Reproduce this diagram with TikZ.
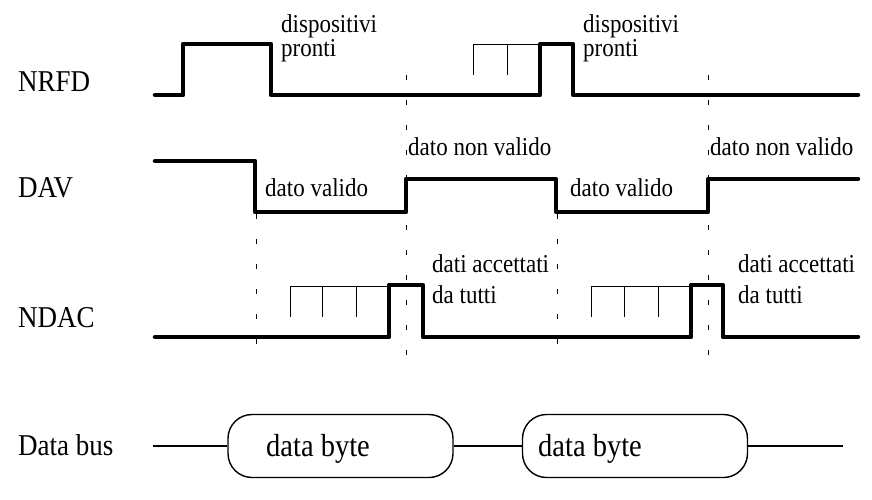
\documentclass[tikz,border=0pt]{standalone}
\usepackage{fontspec}
\setmainfont{Liberation Serif}
\newcommand{\tallt}[1]{\scalebox{1}[1.12]{#1}}
\begin{document}
\begin{tikzpicture}[x=1pt,y=-1pt,
  sig/.style={line width=4.5pt,line join=round,line cap=round},
  ghost/.style={line width=0.9pt},
  guide/.style={line width=0.9pt,dash pattern=on 5pt off 20pt},
  lab/.style={anchor=base west,inner sep=0pt,font=\fontsize{27}{30}\selectfont},
  note/.style={anchor=base west,inner sep=0pt,font=\fontsize{23}{26}\selectfont},
  bus/.style={line width=2.4pt},
  byte/.style={draw,line width=1.4pt,rounded corners=24pt,minimum width=225pt,minimum height=63pt,inner sep=0pt},
  bytetxt/.style={anchor=base west,inner sep=0pt,font=\fontsize{28.5}{31}\selectfont}]
\useasboundingbox (0,0) rectangle (872,500);
% guides
\draw[guide] (406,75) -- (406,368);
\draw[guide] (708,75) -- (708,368);
\draw[guide] (256,214) -- (256,350);
\draw[guide] (557,214) -- (557,350);
% labels
\node[lab] (nrfd) at (18,92) {\tallt{NRFD}};
\node[lab] (dav) at (18,197) {\tallt{DAV}};
\node[lab] (ndac) at (18,327) {\tallt{NDAC}};
\node[lab] (dbus) at (18,455) {\tallt{Data bus}};
% NRFD
\draw[sig] (155,95) -- (183,95) -- (183,44) -- (271,44) -- (271,95) -- (540,95) -- (540,44) -- (573,44) -- (573,95) -- (858,95);
\draw[ghost] (473,75) -- (473,44) -- (540,44);
\draw[ghost] (507,75) -- (507,44);
\node[note] (dp1) at (281,33) {\tallt{dispositivi}};
\node[note] (pr1) at (281,57) {\tallt{pronti}};
\node[note] (dp2) at (583,33) {\tallt{dispositivi}};
\node[note] (pr2) at (583,57) {\tallt{pronti}};
% DAV
\draw[sig] (155,161) -- (255,161) -- (255,212) -- (406,212) -- (406,179) -- (556,179) -- (556,212) -- (708,212) -- (708,179) -- (858,179);
\node[note] (nv1) at (408,155) {\tallt{dato non valido}};
\node[note] (nv2) at (710,155) {\tallt{dato non valido}};
\node[note] (v1) at (265,196) {\tallt{dato valido}};
\node[note] (v2) at (570,196) {\tallt{dato valido}};
% NDAC
\draw[sig] (155,337) -- (389,337) -- (389,285) -- (423,285) -- (423,337) -- (691,337) -- (691,285) -- (723,285) -- (723,337) -- (858,337);
\draw[ghost] (290,317) -- (290,286) -- (389,286);
\draw[ghost] (322,317) -- (322,286);
\draw[ghost] (356,317) -- (356,286);
\draw[ghost] (591,317) -- (591,286) -- (691,286);
\draw[ghost] (624,317) -- (624,286);
\draw[ghost] (658,317) -- (658,286);
\node[note] (da1) at (432,272) {\tallt{dati accettati}};
\node[note] (dt1) at (432,303) {\tallt{da tutti}};
\node[note] (da2) at (738,272) {\tallt{dati accettati}};
\node[note] (dt2) at (738,303) {\tallt{da tutti}};
% Data bus
\node[byte] (b1) at (340.5,446) {};
\node[byte] (b2) at (635,446) {};
\node[bytetxt] (t1) at (266,456) {\tallt{data byte}};
\node[bytetxt] (t2) at (538,456) {\tallt{data byte}};
\coordinate (bs) at (153,446);
\coordinate (be) at (843,446);
\draw[bus] (bs) -- (b1.west);
\draw[bus] (b1.east) -- (b2.west);
\draw[bus] (b2.east) -- (be);
\end{tikzpicture}
\end{document}
